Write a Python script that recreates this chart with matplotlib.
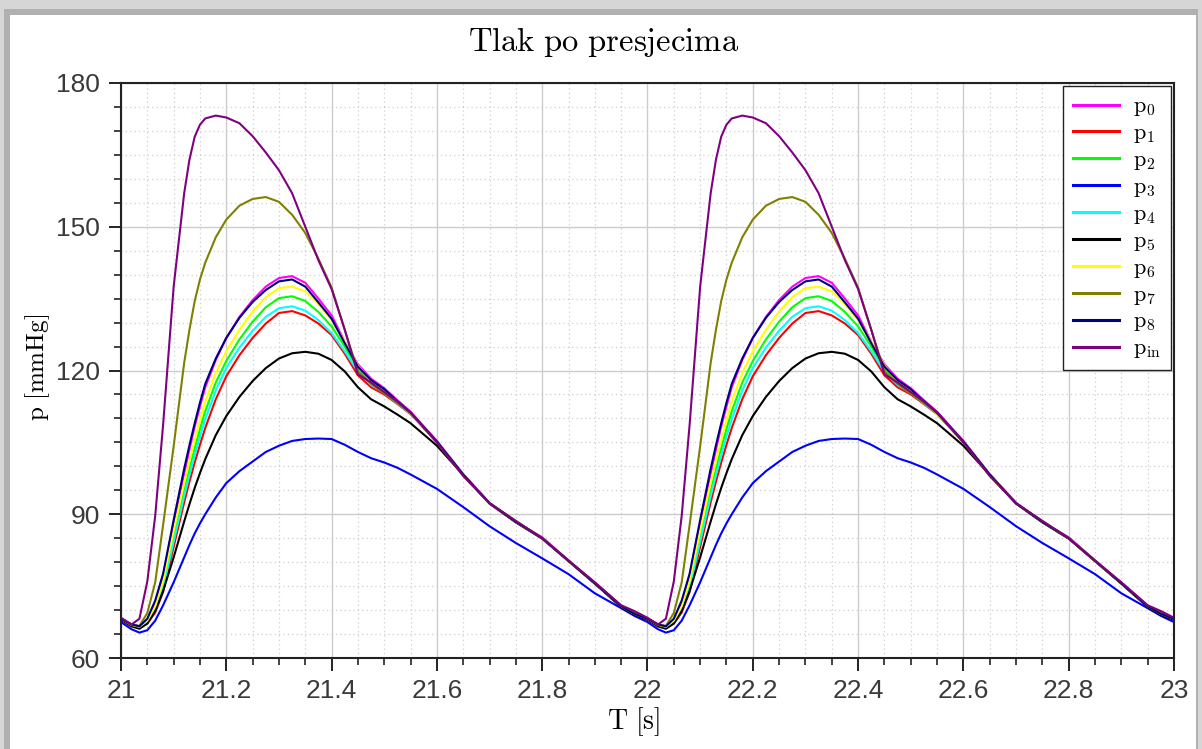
import numpy as np
import matplotlib.pyplot as plt
from matplotlib.patches import Rectangle
from matplotlib.ticker import MultipleLocator

plt.rcParams['mathtext.fontset'] = 'cm'
plt.rcParams['font.family'] = ['Liberation Sans', 'DejaVu Sans']

# vremena unutar jednog ciklusa (s), ciklus se ponavlja 21-22 i 22-23
t_cycle = [0, 0.02, 0.035, 0.05, 0.065, 0.08, 0.1, 0.12, 0.13, 0.14, 0.15, 0.16, 0.18, 0.2,
           0.225, 0.25, 0.275, 0.3, 0.325, 0.35, 0.375, 0.4, 0.425, 0.45, 0.475,
           0.5, 0.525, 0.55, 0.6, 0.65, 0.7, 0.75, 0.8, 0.85, 0.9, 0.95, 0.975, 1.0]
cycle_starts = [21, 22]

p0 = [68.2, 67.0, 66.6, 68.0, 71.6, 77.2, 88.2, 98.5, 103.5, 108.3, 112.5, 116.5, 122.2, 126.8, 131.2, 134.7, 137.5, 139.3, 139.7, 138.3,
      135.0, 131.5, 126.0, 121.3, 118.3, 116.3, 113.8, 111.4, 105.3, 98.4, 92.4, 88.4, 85.2, 80.4, 75.7, 70.9, 69.3, 68.2]
p1 = [68.2, 66.8, 66.3, 67.2, 69.5, 73.8, 83.2, 92.5, 96.8, 100.8, 104.5, 108.0, 114.0, 118.8, 123.2, 126.8, 129.8, 132.0, 132.4, 131.5,
      129.8, 127.4, 123.5, 119.0, 116.5, 115.0, 113.0, 110.9, 105.0, 98.2, 92.3, 88.4, 85.0, 80.3, 75.6, 70.8, 69.2, 68.2]
p2 = [68.2, 66.9, 66.5, 67.6, 70.3, 75.2, 85.2, 95.0, 99.5, 103.8, 107.8, 111.5, 117.5, 122.0, 126.5, 130.2, 133.2, 135.1, 135.5, 134.5,
      132.2, 129.2, 125.0, 120.3, 117.5, 115.6, 113.3, 111.1, 105.1, 98.3, 92.3, 88.4, 85.0, 80.3, 75.6, 70.8, 69.2, 68.2]
p3 = [67.5, 66.0, 65.3, 65.8, 67.8, 71.0, 75.8, 81.0, 83.6, 86.0, 88.1, 90.0, 93.5, 96.5, 99.0, 101.0, 103.0, 104.3, 105.3, 105.7,
      105.8, 105.7, 104.5, 103.0, 101.7, 100.8, 99.7, 98.3, 95.3, 91.5, 87.5, 84.0, 80.8, 77.5, 73.5, 70.4, 68.8, 67.5]
p4 = [68.2, 66.8, 66.4, 67.4, 69.9, 74.6, 84.3, 93.8, 98.2, 102.3, 106.2, 109.8, 115.8, 120.5, 124.8, 128.3, 131.2, 133.0, 133.4, 132.5,
      130.5, 127.8, 124.0, 119.8, 117.0, 115.3, 113.1, 111.0, 105.0, 98.2, 92.3, 88.4, 85.0, 80.3, 75.6, 70.8, 69.2, 68.2]
p5 = [68.0, 66.6, 66.1, 67.2, 69.8, 74.0, 81.0, 88.5, 92.1, 95.5, 98.6, 101.5, 106.5, 110.5, 114.5, 117.8, 120.5, 122.5, 123.6, 123.9,
      123.5, 122.2, 119.8, 116.5, 114.0, 112.5, 110.8, 109.0, 104.3, 98.2, 92.2, 88.3, 84.9, 80.2, 75.5, 70.6, 69.0, 68.0]
p6 = [68.2, 66.9, 66.5, 67.8, 70.8, 76.0, 86.5, 96.5, 101.1, 105.5, 109.6, 113.5, 119.5, 124.0, 128.5, 132.3, 135.3, 137.2, 137.5, 136.5,
      133.8, 130.5, 126.0, 121.0, 117.8, 115.8, 113.4, 111.0, 105.1, 98.3, 92.3, 88.4, 85.0, 80.3, 75.6, 70.8, 69.2, 68.2]
p7 = [68.2, 67.0, 66.7, 69.4, 75.8, 87.8, 104.2, 121.6, 128.5, 134.5, 139.0, 142.5, 147.8, 151.5, 154.4, 155.8, 156.2, 155.2, 152.5, 148.7,
      143.3, 137.3, 128.5, 119.8, 117.2, 115.2, 113.2, 111.1, 105.0, 98.0, 92.3, 88.6, 85.0, 80.3, 75.7, 70.9, 69.6, 68.2]
p8 = [68.2, 67.0, 66.6, 68.2, 72.0, 77.6, 88.8, 99.5, 104.4, 109.0, 113.3, 117.2, 122.5, 126.8, 131.0, 134.3, 136.8, 138.6, 139.0, 137.5,
      134.2, 130.8, 125.7, 120.8, 118.0, 116.1, 113.6, 111.2, 105.2, 98.3, 92.3, 88.4, 85.0, 80.3, 75.6, 70.8, 69.2, 68.2]
p_in = [68.4, 67.0, 68.2, 76.0, 89.7, 108.7, 137.5, 157.0, 164.0, 168.8, 171.3, 172.6, 173.2, 172.8, 171.6, 168.9, 165.5, 161.8, 157.0, 150.0,
        143.0, 137.0, 128.5, 119.2, 117.5, 115.5, 113.5, 111.3, 105.0, 98.0, 92.3, 88.6, 85.0, 80.3, 75.8, 71.0, 69.8, 68.4]

series = [p0, p1, p2, p3, p4, p5, p6, p7, p8, p_in]
labels = [r'$\mathrm{p}_{0}$', r'$\mathrm{p}_{1}$', r'$\mathrm{p}_{2}$', r'$\mathrm{p}_{3}$', r'$\mathrm{p}_{4}$',
          r'$\mathrm{p}_{5}$', r'$\mathrm{p}_{6}$', r'$\mathrm{p}_{7}$', r'$\mathrm{p}_{8}$', r'$\mathrm{p}_{\mathrm{in}}$']
colors = ['#ff00ff', '#ff0000', '#00ff00', '#0000ff', '#00ffff',
          '#000000', '#ffff00', '#808000', '#000080', '#800080']

fig = plt.figure(figsize=(12.02, 7.49), dpi=100)
fig.patch.set_facecolor('#d6d6d6')
# sjena / okvir oko slike
fig.patches.append(Rectangle((4 / 1202, 0), 1194 / 1202, 1 - 9 / 749, transform=fig.transFigure,
                             facecolor='#b0b0b0', edgecolor='none', zorder=-20))
fig.patches.append(Rectangle((10 / 1202, 0), (1196 - 10) / 1202, 1 - 15 / 749, transform=fig.transFigure,
                             facecolor='white', edgecolor='none', zorder=-10))

ax = fig.add_axes([121 / 1202, 1 - 658 / 749, (1174 - 121) / 1202, (658 - 83) / 749])
ax.set_zorder(5)

t_full = np.concatenate([cycle_starts[0] + np.array(t_cycle[:-1]), cycle_starts[1] + np.array(t_cycle)])
for vals, lab, c in zip(series, labels, colors):
    y_full = np.concatenate([vals[:-1], vals])
    ax.plot(t_full, y_full, color=c, lw=1.5, label=lab)

ax.set_xlim(21, 23)
ax.set_ylim(60, 180)
ax.xaxis.set_major_locator(MultipleLocator(0.2))
ax.xaxis.set_minor_locator(MultipleLocator(0.05))
ax.yaxis.set_major_locator(MultipleLocator(30))
ax.yaxis.set_minor_locator(MultipleLocator(5))
ax.set_xticks(np.arange(21, 23.01, 0.2))
ax.set_xticklabels(['21', '21.2', '21.4', '21.6', '21.8', '22', '22.2', '22.4', '22.6', '22.8', '23'])

ax.grid(which='major', color='#cccccc', lw=1.0, ls='-')
ax.grid(which='minor', color='#cfcfcf', lw=0.9, ls=(0, (1, 2.5)))
ax.set_axisbelow(True)

for s in ax.spines.values():
    s.set_color('#222222')
    s.set_linewidth(1.5)
ax.tick_params(which='major', direction='out', length=9, width=1.4, color='#222222',
               labelsize=19, labelcolor='#3a3a3a', pad=6)
ax.tick_params(which='minor', direction='out', length=5, width=1.2, color='#222222')

fig.text(604 / 1202, 1 - 42 / 749, r'$\mathrm{Tlak\ po\ presjecima}$', ha='center', va='center', fontsize=23.5)
fig.text(634 / 1202, 1 - 722 / 749, r'$\mathrm{T\ [s]}$', ha='center', va='center', fontsize=20)
fig.text(38 / 1202, 1 - 367 / 749, r'$\mathrm{p\ [mmHg]}$', ha='center', va='center', fontsize=18, rotation=90)

leg = ax.legend(loc='upper right', bbox_to_anchor=(1.0, 1.0), borderaxespad=0.15, fancybox=False,
                framealpha=1, edgecolor='#222222', fontsize=16, handlelength=2.1, labelspacing=0.22,
                borderpad=0.45, handletextpad=0.6)
leg.get_frame().set_linewidth(1.0)
for line in leg.get_lines():
    line.set_linewidth(2.2)

fig.savefig('out.png', dpi=100, facecolor=fig.get_facecolor())
